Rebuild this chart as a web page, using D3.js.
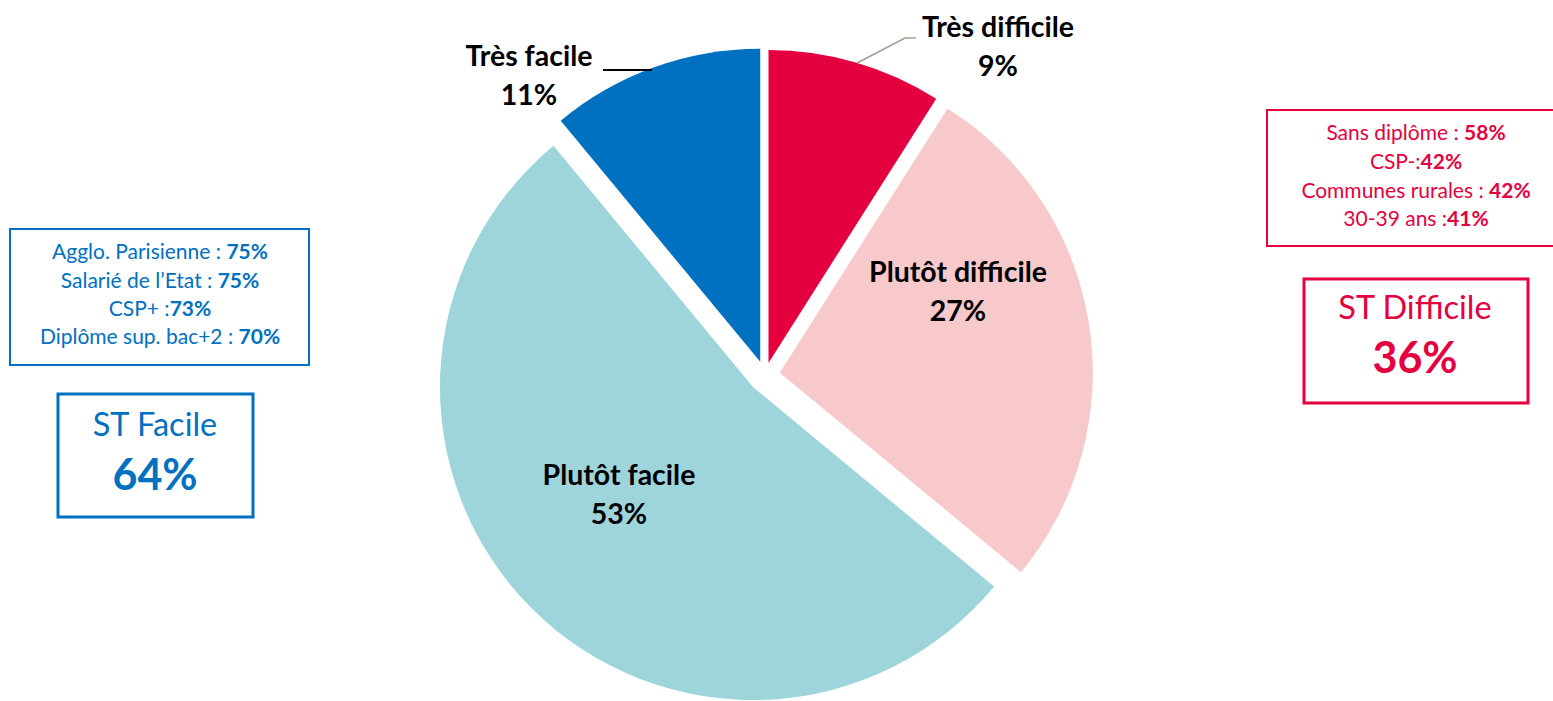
<!DOCTYPE html>
<html>
<head>
<meta charset="utf-8">
<script src="https://cdn.jsdelivr.net/npm/d3@7"></script>
<style>
  body { margin: 0; background: #fff; }
  svg { display: block; font-family: Lato, "Open Sans", sans-serif; }
</style>
</head>
<body>
<div id="chart"></div>
<script>
/* -----------------    DATA     ------------------ */
const categories = ['Très difficile', 'Plutôt difficile', 'Plutôt facile', 'Très facile'];
const values = [9, 27, 53, 11];

const facileDetails = ['Agglo. Parisienne : ', 'Salarié de l\u2019Etat : ', 'CSP+ :', 'Diplôme sup. bac+2 : '];
const facileDetailValues = ['75%', '75%', '73%', '70%'];
const facileTotal = ['ST Facile', '64%'];

const difficileDetails = ['Sans diplôme : ', 'CSP-:', 'Communes rurales : ', '30-39 ans :'];
const difficileDetailValues = ['58%', '42%', '42%', '41%'];
const difficileTotal = ['ST Difficile', '36%'];

/* -----------------    SETTINGS     ------------------ */
const settings = {
    width: 1553,
    height: 701,
    cx: 765,
    cy: 375,
    radius: 313,
    blue: '#0070c0',
    red: '#e4003f'
};

const sliceStyle = {
    'Très difficile':  { fill: '#e4003f', explode: 12.5, label: [998, 27] },
    'Plutôt difficile': { fill: '#f7c9ca', explode: 15, label: [958, 272] },
    'Plutôt facile':   { fill: '#9dd5da', explode: 17, label: [619, 475] },
    'Très facile':     { fill: '#0070c0', explode: 14, label: [529, 56] }
};

/* -----------------    CHART     ------------------ */
const svg = d3.select('#chart')
    .append('svg')
    .attr('width', settings.width)
    .attr('height', settings.height);

const pie = d3.pie().sort(null).value(d => d.value);
const arc = d3.arc().innerRadius(0).outerRadius(settings.radius);

const data = categories.map((c, i) => ({ name: c, value: values[i] }));
const arcs = pie(data);

const pieG = svg.append('g')
    .attr('transform', `translate(${settings.cx}, ${settings.cy})`);

pieG.selectAll('path')
    .data(arcs)
    .enter()
    .append('path')
    .attr('d', arc)
    .attr('fill', d => sliceStyle[d.data.name].fill)
    .attr('transform', d => {
        const mid = (d.startAngle + d.endAngle) / 2;
        const off = sliceStyle[d.data.name].explode;
        return `translate(${Math.sin(mid) * off}, ${-Math.cos(mid) * off})`;
    });

// Leader lines
svg.append('polyline')
    .attr('points', '857,63 905,38 916,38')
    .attr('fill', 'none')
    .attr('stroke', '#a39e94')
    .attr('stroke-width', 1.5);

svg.append('line')
    .attr('x1', 603).attr('y1', 70)
    .attr('x2', 652).attr('y2', 70)
    .attr('stroke', '#000')
    .attr('stroke-width', 2);

// Slice labels
arcs.forEach(d => {
    const st = sliceStyle[d.data.name];
    const t = svg.append('text')
        .attr('x', st.label[0])
        .attr('y', st.label[1])
        .attr('text-anchor', 'middle')
        .attr('font-weight', 'bold')
        .attr('font-size', 28.5)
        .attr('fill', '#000');
    t.append('tspan').attr('x', st.label[0]).attr('dy', '0.35em').text(d.data.name);
    t.append('tspan').attr('x', st.label[0]).attr('dy', '1.38em').text(d.data.value + '%');
});

/* -----------------    SIDE BOXES     ------------------ */
function detailBox(x, y, w, h, color, labels, vals, cx, y0, step) {
    svg.append('rect')
        .attr('x', x).attr('y', y)
        .attr('width', w).attr('height', h)
        .attr('fill', '#fff')
        .attr('stroke', color)
        .attr('stroke-width', 2);

    labels.forEach((lab, i) => {
        const t = svg.append('text')
            .attr('x', cx)
            .attr('y', y0 + i * step)
            .attr('dy', '0.35em')
            .attr('text-anchor', 'middle')
            .attr('font-size', 21)
            .attr('fill', color);
        t.append('tspan').text(lab);
        t.append('tspan').attr('font-weight', 'bold').text(vals[i]);
    });
}

function totalBox(x, y, w, h, color, lines, cx, y1, y2) {
    svg.append('rect')
        .attr('x', x).attr('y', y)
        .attr('width', w).attr('height', h)
        .attr('fill', '#fff')
        .attr('stroke', color)
        .attr('stroke-width', 3);

    svg.append('text')
        .attr('x', cx).attr('y', y1)
        .attr('dy', '0.35em')
        .attr('text-anchor', 'middle')
        .attr('font-size', 32.5)
        .attr('fill', color)
        .text(lines[0]);

    svg.append('text')
        .attr('x', cx).attr('y', y2)
        .attr('dy', '0.35em')
        .attr('text-anchor', 'middle')
        .attr('font-size', 43)
        .attr('font-weight', 'bold')
        .attr('fill', color)
        .text(lines[1]);
}

detailBox(10, 229, 299, 136, settings.blue, facileDetails, facileDetailValues, 160, 252, 28.3);
totalBox(58, 394, 195, 123, settings.blue, facileTotal, 155, 425, 475);

detailBox(1267, 110, 320, 136, settings.red, difficileDetails, difficileDetailValues, 1416, 133, 28.7);
totalBox(1304, 279, 224, 124, settings.red, difficileTotal, 1415, 308, 358);
</script>
</body>
</html>
